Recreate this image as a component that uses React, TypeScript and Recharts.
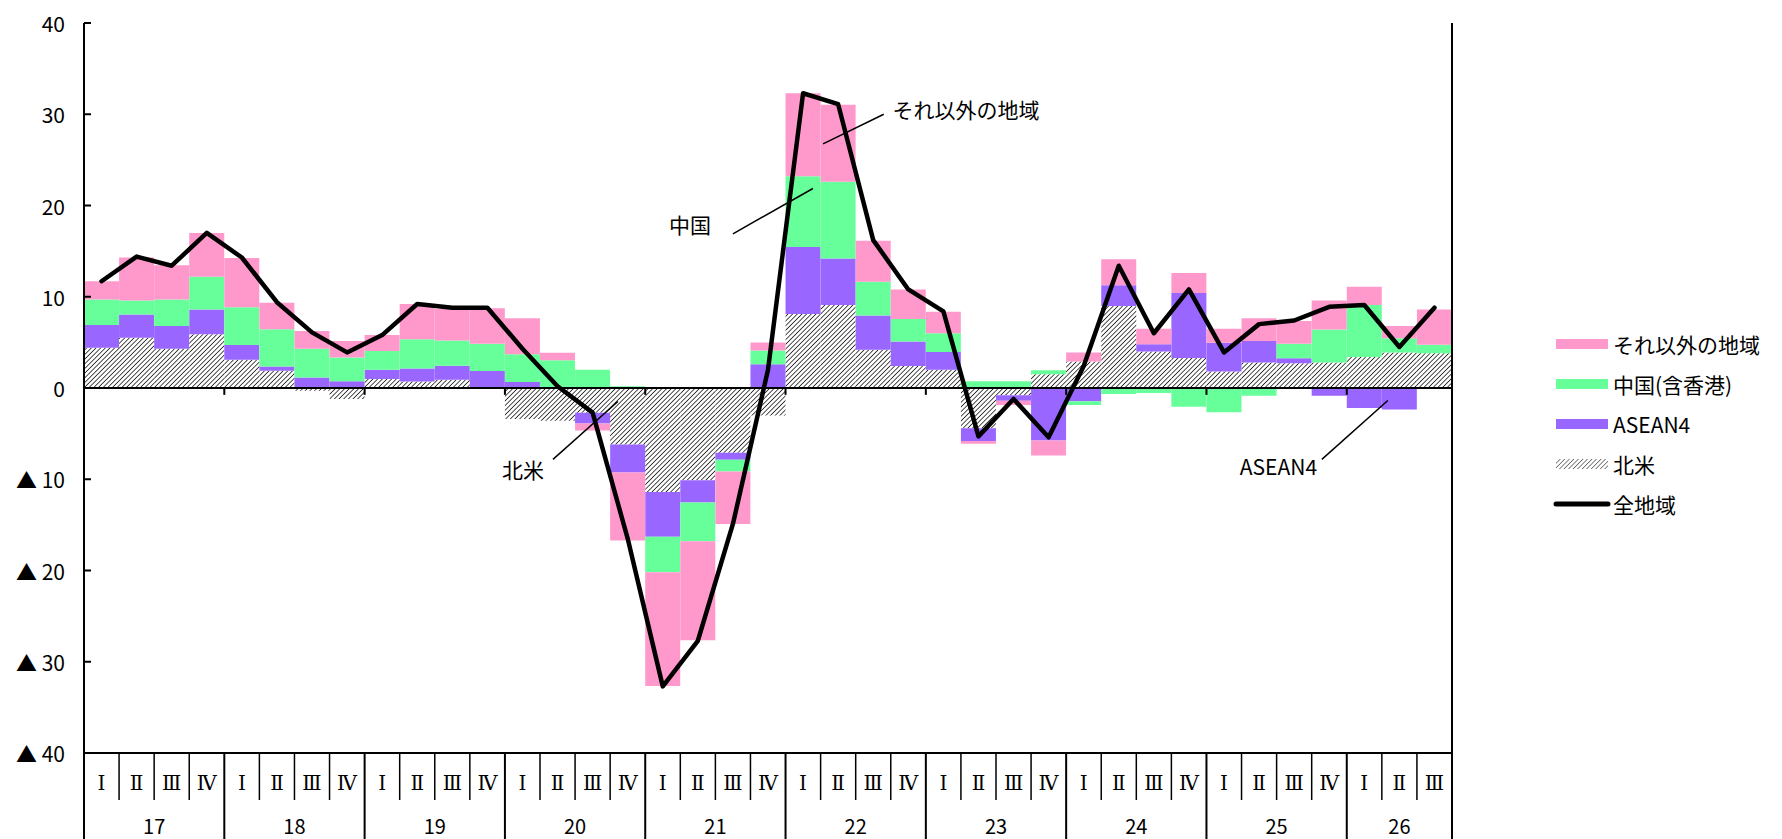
import React from 'react';
import {
  ComposedChart,
  Bar,
  Line,
  XAxis,
  YAxis,
  ReferenceLine,
  ReferenceDot,
} from 'recharts';

const years = ['17', '18', '19', '20', '21', '22', '23', '24', '25', '26'];
const quarterNames = ['Ⅰ', 'Ⅱ', 'Ⅲ', 'Ⅳ'];
const quartersPerYear = [4, 4, 4, 4, 4, 4, 4, 4, 4, 3];

// contributions by region (%pt), 17Ⅰ .. 26Ⅲ
const northAmerica = [
  4.4, 5.5, 4.3, 5.9,
  3.1, 1.9, -0.3, -1.2,
  1.0, 0.7, 0.9, 0,
  -3.4, -3.6, -2.7, -6.2,
  -11.4, -10.1, -7.1, -3.0,
  8.1, 9.1, 4.2, 2.4,
  2.0, -4.4, -0.8, 1.5,
  2.9, 9.0, 4.0, 3.3,
  1.8, 2.8, 2.7, 2.8,
  3.4, 3.9, 3.8,
];
const asean4 = [
  2.5, 2.55, 2.5, 2.7,
  1.6, 0.45, 1.15, 0.75,
  1.0, 1.45, 1.55, 1.85,
  0.65, 0, -1.2, -3.05,
  -4.9, -2.45, -0.75, 2.6,
  7.35, 5.1, 3.75, 2.7,
  1.95, -1.4, -0.6, -5.75,
  -1.45, 2.25, 0.8, 7.1,
  3.15, 2.35, 0.55, -0.85,
  -2.2, -2.35, 0,
];
const china = [
  2.8, 1.55, 2.9, 3.6,
  4.15, 4.1, 3.15, 2.6,
  2.05, 3.2, 2.75, 3.0,
  3.05, 3.05, 2.0, 0.2,
  -3.9, -4.25, -1.3, 1.5,
  7.75, 8.4, 3.7, 2.45,
  2.05, 0.75, 0.75, 0.45,
  -0.4, -0.65, -0.55, -2.05,
  -2.65, -0.85, 1.6, 3.6,
  5.7, 1.55, 0.95,
];
const otherRegions = [
  2.0, 4.7, 3.75, 4.8,
  5.4, 2.9, 1.95, 1.8,
  1.75, 3.85, 3.45, 3.9,
  3.95, 0.8, -0.75, -7.45,
  -12.45, -10.85, -5.75, 0.9,
  9.1, 8.45, 4.5, 3.25,
  2.35, -0.3, -0.45, -1.65,
  1.0, 2.85, 1.7, 2.2,
  1.55, 2.5, 2.5, 3.2,
  2.0, 1.35, 3.85,
];
const allRegions = [
  11.7, 14.4, 13.4, 17.0,
  14.3, 9.4, 6.1, 3.9,
  5.8, 9.2, 8.8, 8.8,
  4.3, 0.2, -2.7, -16.5,
  -32.7, -27.7, -14.9, 2.0,
  32.3, 31.1, 16.2, 10.8,
  8.4, -5.3, -1.2, -5.4,
  2.4, 13.4, 6.0, 10.8,
  3.9, 7.0, 7.4, 8.9,
  9.1, 4.5, 8.8,
];

const yTicks = [-40, -30, -20, -10, 0, 10, 20, 30, 40];

const FONT = "'Noto Sans CJK JP', 'Noto Sans', sans-serif";
const NUMERAL_FONT = "'DejaVu Serif', 'Noto Sans CJK JP', serif";
const W = 1782;
const H = 839;
const LEFT_W = 84;
const RIGHT_W = 60;
const RIGHT_MARGIN = 270;
const TOP = 23;
const XAXIS_H = 86;
const PLOT_W = W - LEFT_W - RIGHT_W - RIGHT_MARGIN;

const rows: any[] = [];
years.forEach((year, yi) => {
  for (let q = 0; q < quartersPerYear[yi]; q++) {
    const i = rows.length;
    rows.push({
      q: quarterNames[q],
      qi: q,
      year,
      yearLen: quartersPerYear[yi],
      pos: i + 0.5,
      na: northAmerica[i],
      asean: asean4[i],
      china: china[i],
      other: otherRegions[i],
      total: allRegions[i],
    });
  }
});

const legendItems = [
  { name: 'それ以外の地域', fill: '#FF99CC' },
  { name: '中国(含香港)', fill: '#66FF99' },
  { name: 'ASEAN4', fill: '#9966FF' },
  { name: '北米', fill: 'url(#hatchLegend)' },
  { name: '全地域', line: true },
];

// leader-line labels, in (quarter position, value) coordinates
const notes = [
  { text: 'それ以外の地域', at: [23.05, 30.6], from: [22.8, 30.0], to: [21.07, 26.75] },
  { text: '中国', at: [16.68, 18.0], from: [18.5, 16.9], to: [20.78, 21.86] },
  { text: '北米', at: [11.92, -8.9], from: [13.37, -7.82], to: [15.22, -1.48] },
  { text: 'ASEAN4', at: [32.95, -8.6], from: [35.29, -7.82], to: [37.17, -1.37] },
];

const fmt = (v: number) => (v < 0 ? `▲ ${-v}` : `${v}`);

const LeftTick = ({ x, y, payload }: any) => (
  <g>
    <line x1={x + 19} x2={x + 26} y1={y} y2={y} stroke="#000" strokeWidth={2} />
    <text x={x} y={y} textAnchor="end" dominantBaseline="central" fontSize={21} fontFamily={FONT} fill="#000">
      {fmt(payload.value)}
    </text>
  </g>
);

const RightTick = ({ x, y, payload }: any) => (
  <g>
    <line x1={x - 21} x2={x - 28} y1={y} y2={y} stroke="#000" strokeWidth={2} />
    <text x={x} y={y} textAnchor="start" dominantBaseline="central" fontSize={21} fontFamily={FONT} fill="#000">
      {fmt(payload.value)}
    </text>
  </g>
);

const QuarterTick = ({ x, y, payload }: any) => {
  const row = rows[payload.index];
  const half = PLOT_W / rows.length / 2;
  const yearEnd = row.qi === row.yearLen - 1;
  return (
    <g>
      <text x={x} y={y + 30} textAnchor="middle" dominantBaseline="central" fontSize={20} fontFamily={NUMERAL_FONT} fill="#000">
        {row.q}
      </text>
      {payload.index === 0 && (
        <line x1={x - half} x2={x - half} y1={y} y2={H} stroke="#000" strokeWidth={2} />
      )}
      <line
        x1={x + half}
        x2={x + half}
        y1={y}
        y2={yearEnd ? H : y + 47}
        stroke="#000"
        strokeWidth={yearEnd ? 2 : 1.5}
      />
      {row.qi === 1 && (
        <text
          x={row.yearLen === 4 ? x + half : x}
          y={y + 72}
          textAnchor="middle"
          dominantBaseline="central"
          fontSize={20}
          fontFamily={FONT}
          fill="#000"
        >
          {row.year}
        </text>
      )}
    </g>
  );
};

const Legend = () => (
  <svg width={230} height={200} style={{ position: 'absolute', left: 1550, top: 324 }}>
    <defs>
      <pattern id="hatchLegend" width="3.2" height="3.2" patternUnits="userSpaceOnUse" patternTransform="rotate(45)">
        <rect width="3.2" height="3.2" fill="#fff" />
        <line x1="0" y1="0" x2="0" y2="3.2" stroke="#444" strokeWidth="1.3" />
      </pattern>
    </defs>
    {legendItems.map((item, i) => {
      const cy = 20 + i * 40;
      return (
        <g key={item.name}>
          {item.line ? (
            <line x1={6} x2={58} y1={cy} y2={cy} stroke="#000" strokeWidth={5} strokeLinecap="round" />
          ) : (
            <rect x={6} y={cy - 5} width={52} height={10} fill={item.fill} />
          )}
          <text x={63} y={cy} dominantBaseline="central" fontSize={21} fontFamily={FONT} fill="#000">
            {item.name}
          </text>
        </g>
      );
    })}
  </svg>
);

const App: React.FC = () => {
  return (
    <div style={{ position: 'absolute', left: 0, top: 0, width: W, height: H, background: '#fff' }}>
      <ComposedChart
        width={W}
        height={H}
        data={rows}
        stackOffset="sign"
        barCategoryGap={0}
        barGap={0}
        margin={{ top: TOP, right: RIGHT_MARGIN, bottom: 0, left: 0 }}
        style={{ fontFamily: FONT }}
      >
        <defs>
          <pattern id="hatch" width="3.3" height="3.3" patternUnits="userSpaceOnUse" patternTransform="rotate(45)">
            <rect width="3.3" height="3.3" fill="#fff" />
            <line x1="0" y1="0" x2="0" y2="3.3" stroke="#111" strokeWidth="1.5" />
          </pattern>
        </defs>
        <XAxis
          xAxisId="cat"
          dataKey="q"
          height={XAXIS_H}
          interval={0}
          tickSize={0}
          tickMargin={0}
          tick={<QuarterTick />}
          axisLine={{ stroke: '#000', strokeWidth: 2 }}
        />
        <XAxis xAxisId="num" type="number" dataKey="pos" domain={[0, rows.length]} allowDataOverflow hide />
        <YAxis
          yAxisId="left"
          width={LEFT_W}
          domain={[-40, 40]}
          ticks={yTicks}
          interval={0}
          tickSize={0}
          tickMargin={19}
          tick={<LeftTick />}
          axisLine={{ stroke: '#000', strokeWidth: 2 }}
        />
        <YAxis
          yAxisId="right"
          orientation="right"
          width={RIGHT_W}
          domain={[-40, 40]}
          ticks={yTicks}
          interval={0}
          tickSize={0}
          tickMargin={21}
          tick={<RightTick />}
          axisLine={{ stroke: '#000', strokeWidth: 2 }}
        />
        <Bar xAxisId="cat" yAxisId="left" dataKey="na" name="北米" stackId="r" fill="url(#hatch)" isAnimationActive={false} />
        <Bar xAxisId="cat" yAxisId="left" dataKey="asean" name="ASEAN4" stackId="r" fill="#9966FF" isAnimationActive={false} />
        <Bar xAxisId="cat" yAxisId="left" dataKey="china" name="中国(含香港)" stackId="r" fill="#66FF99" isAnimationActive={false} />
        <Bar xAxisId="cat" yAxisId="left" dataKey="other" name="それ以外の地域" stackId="r" fill="#FF99CC" isAnimationActive={false} />
        <ReferenceLine xAxisId="num" yAxisId="left" y={0} stroke="#000" strokeWidth={2} />
        {years.slice(1).map((y, k) => (
          <ReferenceLine
            key={y}
            xAxisId="num"
            yAxisId="left"
            segment={[{ x: (k + 1) * 4, y: 0 }, { x: (k + 1) * 4, y: -0.75 }]}
            stroke="#000"
            strokeWidth={2}
          />
        ))}
        {notes.map((n) => (
          <ReferenceLine
            key={n.text + '-l'}
            xAxisId="num"
            yAxisId="left"
            segment={[{ x: n.from[0], y: n.from[1] }, { x: n.to[0], y: n.to[1] }]}
            stroke="#000"
            strokeWidth={1.5}
          />
        ))}
        {notes.map((n) => (
          <ReferenceDot
            key={n.text}
            xAxisId="num"
            yAxisId="left"
            x={n.at[0]}
            y={n.at[1]}
            r={0}
            shape={(p: any) => (
              <text x={p.cx} y={p.cy} dominantBaseline="central" fontSize={21} fontFamily={FONT} fill="#000">
                {n.text}
              </text>
            )}
          />
        ))}
        <Line
          xAxisId="cat"
          yAxisId="left"
          type="linear"
          dataKey="total"
          name="全地域"
          stroke="#000"
          strokeWidth={4.5}
          strokeLinecap="round"
          strokeLinejoin="round"
          dot={false}
          activeDot={false}
          isAnimationActive={false}
        />
      </ComposedChart>
      <Legend />
    </div>
  );
};

export default App;
